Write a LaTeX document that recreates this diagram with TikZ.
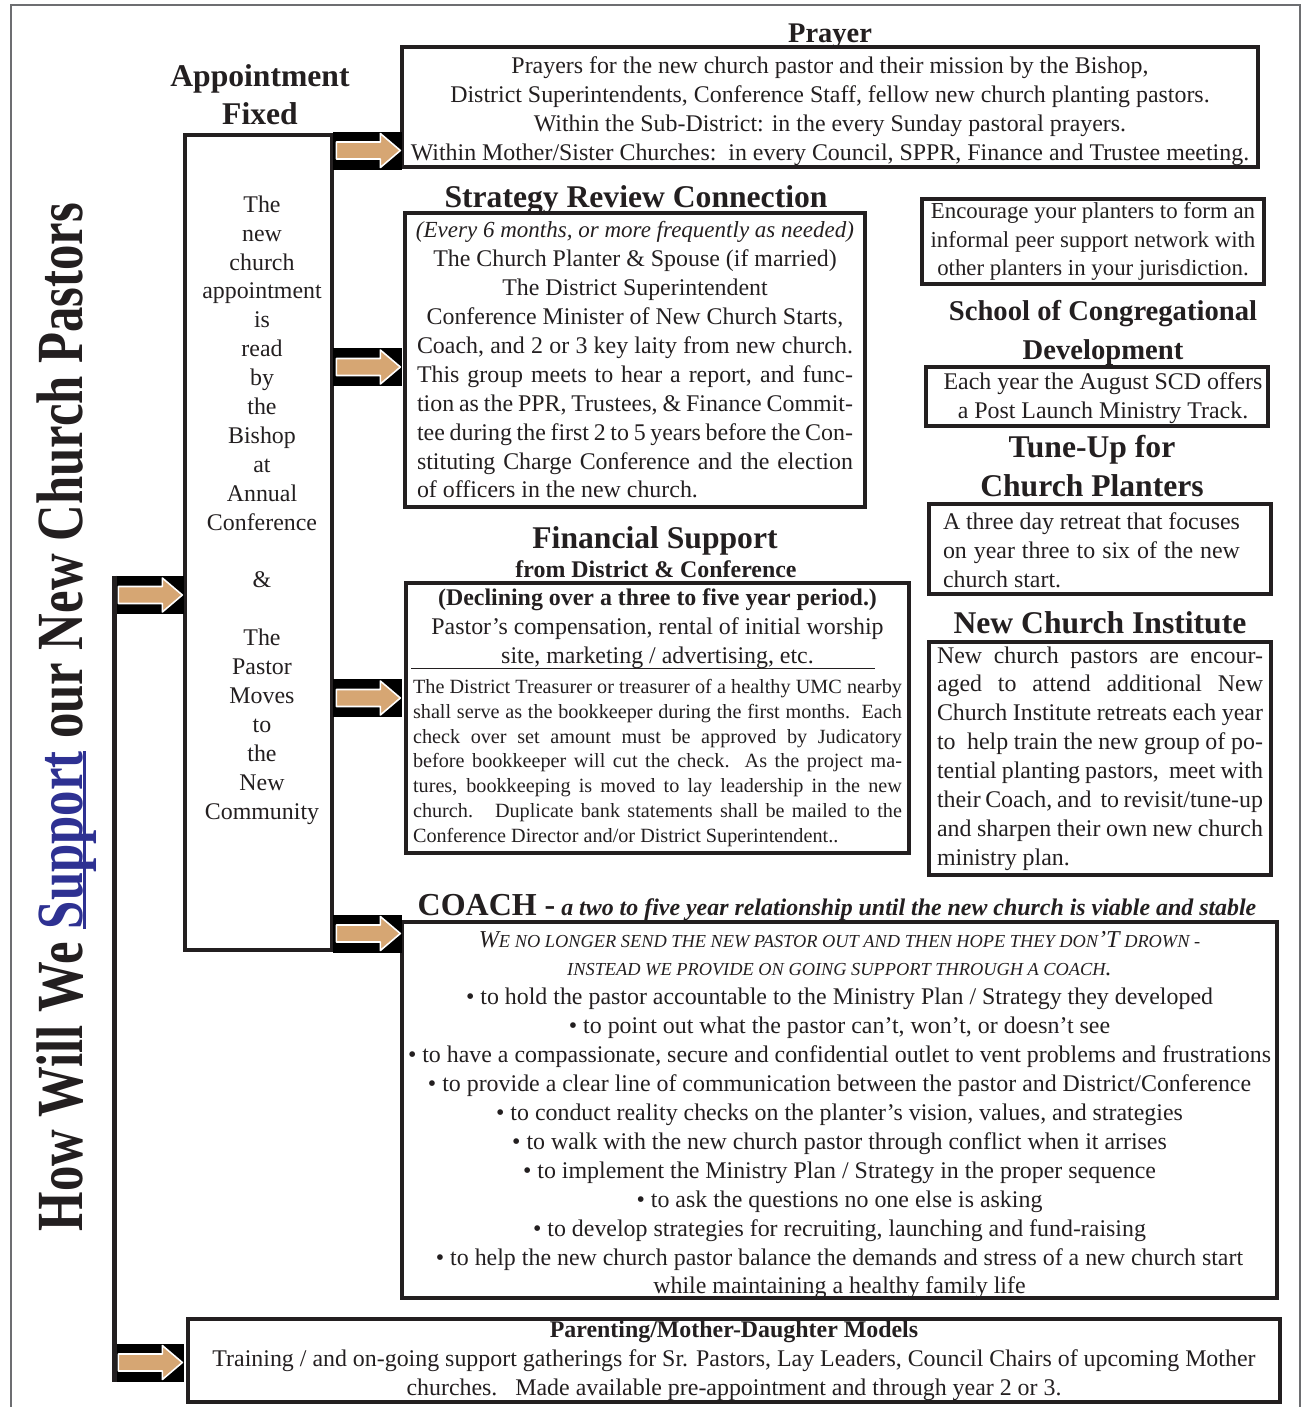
\documentclass[tikz,border=0pt]{standalone}
\usepackage{fontspec}
\setmainfont{Liberation Serif}
\newfontfamily\titlefont[FakeStretch=0.77]{Liberation Serif}
\definecolor{ink}{HTML}{231F20}
\definecolor{arrowtan}{HTML}{D6A673}
\definecolor{titleblue}{HTML}{2E3192}
\definecolor{framegray}{HTML}{6D6E71}
\newcommand{\titleul}[1]{\setbox0=\hbox{#1}\rlap{\rule[-2pt]{\wd0}{1.4pt}}\box0}
\newcommand{\scbig}[1]{{\fontsize{13.8}{16.45}\selectfont #1}}

\begin{document}
\begin{tikzpicture}[x=0.02cm,y=-0.02cm,
  every node/.append style={inner sep=0pt,text=ink,font=\fontsize{13.6}{16.45}\selectfont},
  box/.style={draw=ink,line width=0.09cm,align=center},
  head/.style={font=\bfseries\fontsize{18}{21.6}\selectfont,align=center},
  arrbg/.style={fill=black,minimum width=1.38cm,minimum height=0.76cm},
  tanarrow/.style={fill=arrowtan,draw=white,line width=0.9pt,line join=round}]
  \useasboundingbox (0,0) rectangle (1308,1407);
  \draw[framegray,line width=0.6pt] (11,1407) -- (11,5) -- (1300,5) -- (1300,1407);

  \node[rotate=90,anchor=base,font=\titlefont\bfseries\fontsize{37.5}{40}\selectfont] (title) at (82,717)
    {How Will We \textcolor{titleblue}{\titleul{Support}} our New Church Pastors};

  \node[head] (apptHead) at (260,95) {Appointment\\Fixed};
  \node[box,minimum width=2.94cm,minimum height=16.3cm] (appt) at (258.5,542.5) {};
  \node[align=center] (apptText) at (262,510) {The\\new\\church\\appointment\\is\\read\\by\\the\\Bishop\\at\\Annual\\Conference\\\mbox{}\\\&\\\mbox{}\\The\\Pastor\\Moves\\to\\the\\New\\Community};

  \node[head,font=\bfseries\fontsize{16.2}{20}\selectfont,anchor=base] (prayerHead) at (830,42) {Prayer};
  \node[box,minimum width=17.12cm,minimum height=2.4cm] (prayer) at (830,107) {};
  \node[align=center] (prayerText) at (830,111)
    {Prayers for the new church pastor and their mission by the Bishop,\\
     District Superintendents, Conference Staff, fellow new church planting pastors.\\
     Within the Sub-District: in the every Sunday pastoral prayers.\\
     Within Mother/Sister Churches:\ \ in every Council, SPPR, Finance and Trustee meeting.};

  \node[head,anchor=base] (stratHead) at (636,207) {Strategy Review Connection};
  \node[box,align=justify,text width=8.72cm,minimum width=9.2cm,minimum height=5.88cm] (strat) at (635,360)
    {\centerline{\itshape\fontsize{13.1}{16.45}\selectfont (Every 6 months, or more frequently as needed)}
     \centerline{The Church Planter \& Spouse (if married)}
     \centerline{The District Superintendent}
     \centerline{Conference Minister of New Church Starts,}
     Coach, and 2 or 3 key laity from new church.\linebreak
     This group meets to hear a report, and func-\linebreak
     tion as the PPR, Trustees, \& Finance Commit-\linebreak
     tee during the first 2 to 5 years before the Con-\linebreak
     stituting Charge Conference and the election\linebreak
     of officers in the new church.};

  \node[head,anchor=base] (finHead) at (655,548) {Financial Support};
  \node[head,anchor=base,font=\bfseries\fontsize{13.6}{16}\selectfont] (finSub) at (656,577) {from District \& Conference};
  \node[box,align=justify,text width=9.78cm,minimum width=10.06cm,minimum height=5.4cm] (fin) at (657.5,718)
    {\centerline{\bfseries (Declining over a three to five year period.)}
     \centerline{Pastor’s compensation, rental of initial worship}
     \centerline{site, marketing / advertising, etc.}\par
     \nointerlineskip\kern-0.6pt
     \hbox{\kern-0.04cm\vrule width 9.28cm height 0.3pt depth 0.3pt}
     {\fontsize{11.5}{14.2}\selectfont\noindent
     The District Treasurer or treasurer of a healthy UMC nearby\linebreak
     shall serve as the bookkeeper during the first months.\ \ Each\linebreak
     check over set amount must be approved by Judicatory\linebreak
     before bookkeeper will cut the check.\ \ As the project ma-\linebreak
     tures, bookkeeping is moved to lay leadership in the new\linebreak
     church.\ \ \ Duplicate bank statements shall be mailed to the\linebreak
     Conference Director and/or District Superintendent..\par}};

  \node[box,minimum width=6.84cm,minimum height=1.7cm,font=\fontsize{13}{16.45}\selectfont] (peer) at (1093,241.5)
    {Encourage your planters to form an\\informal peer support network with\\other planters in your jurisdiction.};
  \node[head,font=\bfseries\fontsize{16.3}{22.2}\selectfont] (scdHead) at (1103,332.5) {School of Congregational\\Development};
  \node[box,minimum width=6.84cm,minimum height=1.18cm] (scd) at (1097,396.5) {};
  \node[align=center] (scdText) at (1103,398)
    {Each year the August SCD offers\\a Post Launch Ministry Track.};
  \node[head,font=\bfseries\fontsize{18}{22.2}\selectfont] (tuneHead) at (1092,466.5) {Tune-Up for\\Church Planters};
  \node[box,minimum width=6.84cm,minimum height=1.8cm] (tune) at (1100,549) {};
  \node[align=justify,text width=5.94cm] (tuneText) at (1091.5,550)
    {A three day retreat that focuses\linebreak on year three to six of the new\linebreak church start.};
  \node[head,anchor=base] (nciHead) at (1100,633) {New Church Institute};
  \node[box,align=justify,text width=6.52cm,minimum width=6.84cm,minimum height=4.66cm] (nci) at (1100,758.5)
    {New church pastors are encour-\linebreak
     aged to attend additional New\linebreak
     Church Institute retreats each year\linebreak
     to\ \ help train the new group of po-\linebreak
     tential planting pastors,\ \ meet with\linebreak
     their Coach, and\ \ to revisit/tune-up\linebreak
     and sharpen their own new church\linebreak
     ministry plan.};

  \node[anchor=base] (coachHead) at (837,915)
    {{\bfseries\fontsize{18.2}{20}\selectfont COACH -} {\bfseries\itshape a two to five year relationship until the new church is viable and stable}};
  \node[box,minimum width=17.5cm,minimum height=7.52cm] (coach) at (839.5,1110) {};
  \node[align=center] (coachText) at (839.5,1115)
    {{\itshape\fontsize{10.45}{16.45}\selectfont\scbig{W}E NO LONGER SEND THE NEW PASTOR OUT AND THEN HOPE THEY DON\scbig{’T} DROWN -}\\
     {\itshape\fontsize{10.45}{16.45}\selectfont INSTEAD WE PROVIDE ON GOING SUPPORT THROUGH A COACH\scbig{.}}\\
     • to hold the pastor accountable to the Ministry Plan / Strategy they developed\\
     • to point out what the pastor can’t, won’t, or doesn’t see\\
     • to have a compassionate, secure and confidential outlet to vent problems and frustrations\\
     • to provide a clear line of communication between the pastor and District/Conference\\
     • to conduct reality checks on the planter’s vision, values, and strategies\\
     • to walk with the new church pastor through conflict when it arrises\\
     • to implement the Ministry Plan / Strategy in the proper sequence\\
     • to ask the questions no one else is asking\\
     • to develop strategies for recruiting, launching and fund-raising\\
     • to help the new church pastor balance the demands and stress of a new church start\\
     while maintaining a healthy family life};

  \node[box,minimum width=21.84cm,minimum height=1.66cm] (parent) at (734,1360.5)
    {\textbf{Parenting/Mother-Daughter Models}\\
     Training / and on-going support gatherings for Sr. Pastors, Lay Leaders, Council Chairs of upcoming Mother\\
     churches.\ \ \ Made available pre-appointment and through year 2 or 3.};

  \node[arrbg] (aPrayer) at (367.5,150.5) {};
  \draw[tanarrow] ([shift={(-66,-8.5)}]aPrayer.east) -- ++(44,0) -- ++(0,-8.5) -- ++(20,17) -- ++(-20,17) -- ++(0,-8.5) -- ++(-44,0) -- cycle;
  \node[arrbg] (aStrat) at (367.5,367) {};
  \draw[tanarrow] ([shift={(-66,-8.5)}]aStrat.east) -- ++(44,0) -- ++(0,-8.5) -- ++(20,17) -- ++(-20,17) -- ++(0,-8.5) -- ++(-44,0) -- cycle;
  \node[arrbg] (aFin) at (367.5,698) {};
  \draw[tanarrow] ([shift={(-66,-8.5)}]aFin.east) -- ++(44,0) -- ++(0,-8.5) -- ++(20,17) -- ++(-20,17) -- ++(0,-8.5) -- ++(-44,0) -- cycle;
  \node[arrbg] (aCoach) at (367.5,933.5) {};
  \draw[tanarrow] ([shift={(-66,-8.5)}]aCoach.east) -- ++(44,0) -- ++(0,-8.5) -- ++(20,17) -- ++(-20,17) -- ++(0,-8.5) -- ++(-44,0) -- cycle;
  \node[arrbg] (aTrunkA) at (149.5,595) {};
  \draw[tanarrow] ([shift={(-66,-8.5)}]aTrunkA.east) -- ++(44,0) -- ++(0,-8.5) -- ++(20,17) -- ++(-20,17) -- ++(0,-8.5) -- ++(-44,0) -- cycle;
  \node[arrbg] (aTrunkB) at (149.5,1362.5) {};
  \draw[tanarrow] ([shift={(-66,-8.5)}]aTrunkB.east) -- ++(44,0) -- ++(0,-8.5) -- ++(20,17) -- ++(-20,17) -- ++(0,-8.5) -- ++(-44,0) -- cycle;
  \draw[ink,line width=0.1cm] (aTrunkA.north west) -- (aTrunkB.south west);
\end{tikzpicture}
\end{document}
